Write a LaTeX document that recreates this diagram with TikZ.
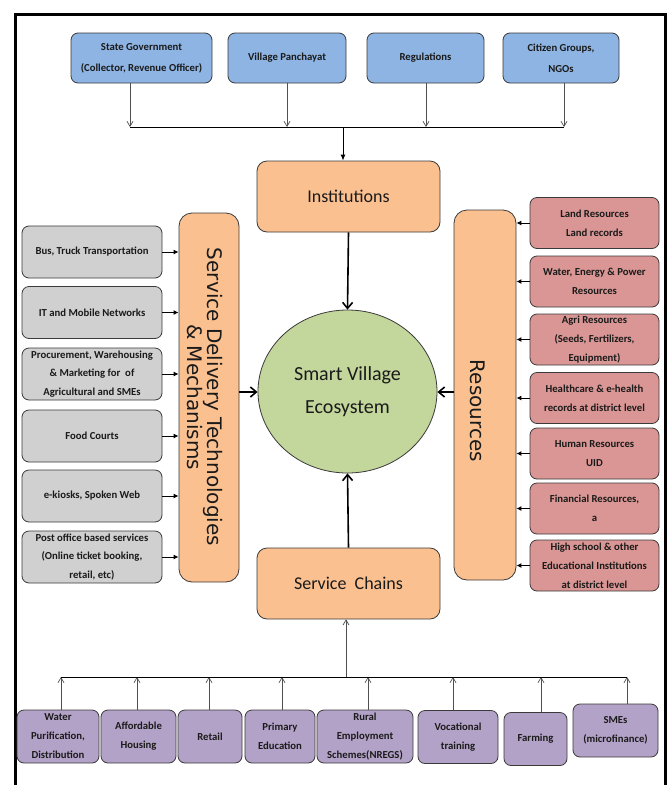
\documentclass[tikz,border=0pt]{standalone}
\usepackage{fontspec}
\setmainfont{Carlito}
\newfontfamily\dejavu{DejaVu Sans}
\usetikzlibrary{arrows.meta,shapes.geometric}
\definecolor{bluef}{HTML}{8EB4E3}
\definecolor{grayf}{HTML}{D0D0D0}
\definecolor{orangef}{HTML}{FAC090}
\definecolor{redf}{HTML}{D99694}
\definecolor{purplef}{HTML}{B3A2C7}
\definecolor{greenf}{HTML}{C3D69B}
\definecolor{edge}{HTML}{3A3A3A}
\definecolor{txt}{HTML}{1A1A1A}
\definecolor{thinline}{HTML}{505050}
\tikzset{
  smallbox/.style={draw=edge, line width=0.8pt, rounded corners=7pt, align=center,
    inner xsep=1pt, inner ysep=1pt, text=txt, font=\bfseries\fontsize{10.7}{19}\selectfont},
  bluebox/.style={smallbox, fill=bluef, minimum height=50pt, font=\bfseries\fontsize{10.7}{21}\selectfont},
  graybox/.style={smallbox, fill=grayf, minimum width=140pt, minimum height=52pt, font=\bfseries\fontsize{10.7}{18.5}\selectfont},
  redbox/.style={smallbox, fill=redf, minimum width=129pt, minimum height=51pt},
  purplebox/.style={smallbox, fill=purplef, minimum height=53pt},
  orangebox/.style={draw=edge, line width=0.8pt, fill=orangef, rounded corners=10pt, text=txt},
  bigbox/.style={orangebox, rounded corners=13pt},
  vlabel/.style={rotate=-90, align=center, text=txt, font=\dejavu\fontsize{20}{18.5}\selectfont},
  thinarrow/.style={draw=thinline, line width=0.7pt, -{Straight Barb[length=5pt,width=6pt]}},
  bus/.style={draw=black, line width=1pt},
  mainarrow/.style={draw=black, line width=1.6pt, -{Straight Barb[length=6pt,width=10pt]}},
  sidearrow/.style={draw=black, line width=1pt, -{Latex[length=5pt,width=5pt]}},
  toparrow/.style={draw=black, line width=1pt, -{Latex[length=6pt,width=5pt]}}
}
\begin{document}
\begin{tikzpicture}[x=1pt,y=-1pt]
\useasboundingbox (0,0) rectangle (672,785);
% frame
\draw[line width=3pt] (15,800) -- (15,14) -- (665,14) -- (665,800);

% top boxes
\node[bluebox, minimum width=141pt] (sg) at (141.5,58) {State Government\\(Collector, Revenue Officer)};
\node[bluebox, minimum width=118pt] (vp) at (287,58) {Village Panchayat};
\node[bluebox, minimum width=117pt] (reg) at (425.5,58) {Regulations};
\node[bluebox, minimum width=116pt] (cg) at (561,58) {Citizen Groups,\\NGOs};
\coordinate (a1) at (130,127);
\coordinate (a2) at (287,127);
\coordinate (a3) at (426,127);
\coordinate (a4) at (564,127);
\coordinate (am) at (343,127);
\draw[thinarrow] (a1 |- sg.south) -- (a1);
\draw[thinarrow] (a2 |- vp.south) -- (a2);
\draw[thinarrow] (a3 |- reg.south) -- (a3);
\draw[thinarrow] (a4 |- cg.south) -- (a4);
\draw[bus] (a1) -- (a4);

% center
\node[orangebox, minimum width=183pt, minimum height=71pt, font=\fontsize{18}{22}\selectfont] (inst) at (348.5,196.5) {Institutions};
\node[ellipse, draw=edge, line width=0.8pt, fill=greenf, minimum width=179pt, minimum height=163pt, align=center, text=txt, font=\fontsize{20}{33}\selectfont] (sve) at (347.5,391.5) {Smart Village\\Ecosystem};
\node[orangebox, minimum width=183pt, minimum height=71pt, font=\fontsize{18}{22}\selectfont] (sc) at (348.5,583.5) {Service\ \ Chains};
\draw[toparrow] (am) -- (am |- inst.north);
\draw[mainarrow] (inst.south) -- (sve.north);
\draw[mainarrow] (sc.north) -- (sve.south);

% service delivery
\node[bigbox, minimum width=60pt, minimum height=369pt] (sdt) at (209,397.5) {};
\node[vlabel] (sdtl) at (205,397) {Service Delivery Technologies\\\& Mechanisms};
\coordinate (sl) at (239,392);
\draw[mainarrow] (sl) -- (sve.west |- sl);

% resources
\node[bigbox, minimum width=62pt, minimum height=370pt] (res) at (485,395) {};
\node[vlabel] (resl) at (478,411) {Resources};
\coordinate (rl) at (454,392);
\draw[mainarrow] (rl) -- (sve.east |- rl);

% gray boxes
\node[graybox] (g1) at (92,252) {Bus, Truck Transportation};
\node[graybox] (g2) at (92,312.5) {IT and Mobile Networks};
\node[graybox] (g3) at (92,374) {Procurement, Warehousing\\\& Marketing for\ \ of\\Agricultural and SMEs};
\node[graybox] (g4) at (92,436) {Food Courts};
\node[graybox] (g5) at (92,496) {e-kiosks, Spoken Web};
\node[graybox] (g6) at (92,557) {Post office based services\\(Online ticket booking,\\retail, etc)};
\foreach \g in {g1,g2,g3,g4,g5,g6}{
  \draw[sidearrow] (\g.east) -- (\g.east -| sdt.west);
}

% red boxes
\node[redbox] (r1) at (594.5,223) {Land Resources\\Land records};
\node[redbox] (r2) at (594.5,281.5) {Water, Energy \& Power\\Resources};
\node[redbox] (r3) at (594.5,339.5) {Agri Resources\\(Seeds, Fertilizers,\\Equipment)};
\node[redbox] (r4) at (594.5,398) {Healthcare \& e-health\\records at district level};
\node[redbox] (r5) at (594.5,453.5) {Human Resources\\UID};
\node[redbox] (r6) at (594.5,508.5) {Financial Resources,\\a};
\node[redbox] (r7) at (594.5,565.5) {High school \& other\\Educational Institutions\\at district level};
\foreach \r in {r1,r2,r3,r4,r5,r6,r7}{
  \draw[sidearrow] (\r.west) -- (\r.west -| res.east);
}

% purple boxes
\node[purplebox, minimum width=82pt] (p1) at (58,736.5) {Water\\Purification,\\Distribution};
\node[purplebox, minimum width=75pt] (p2) at (138.5,736.5) {Affordable\\Housing};
\node[purplebox, minimum width=64pt] (p3) at (210,736.5) {Retail};
\node[purplebox, minimum width=70pt] (p4) at (280,736.5) {Primary\\Education};
\node[purplebox, minimum width=96pt] (p5) at (365,736.5) {Rural\\Employment\\Schemes(NREGS)};
\node[purplebox, minimum width=80pt] (p6) at (458,737) {Vocational\\training};
\node[purplebox, minimum width=63pt] (p7) at (535.5,739) {Farming};
\node[purplebox, minimum width=85pt] (p8) at (615.5,730.5) {SMEs\\(microfinance)};
\coordinate (b1) at (61,677);
\coordinate (b2) at (137,677);
\coordinate (b3) at (209,677);
\coordinate (b4) at (282,677);
\coordinate (b5) at (368,677);
\coordinate (b6) at (453,677);
\coordinate (b7) at (541,677);
\coordinate (b8) at (627,677);
\coordinate (bm) at (346,677);
\draw[thinarrow] (b1 |- p1.north) -- (b1);
\draw[thinarrow] (b2 |- p2.north) -- (b2);
\draw[thinarrow] (b3 |- p3.north) -- (b3);
\draw[thinarrow] (b4 |- p4.north) -- (b4);
\draw[thinarrow] (b5 |- p5.north) -- (b5);
\draw[thinarrow] (b6 |- p6.north) -- (b6);
\draw[thinarrow] (b7 |- p7.north) -- (b7);
\draw[thinarrow] (b8 |- p8.north) -- (b8);
\draw[bus] (b1) -- (b8);
\draw[thinarrow] (bm) -- (bm |- sc.south);
\end{tikzpicture}
\end{document}
